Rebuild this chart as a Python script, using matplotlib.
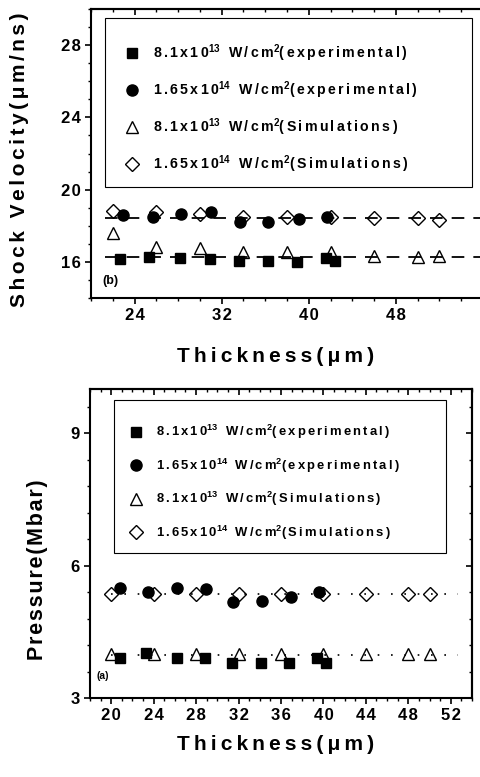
import matplotlib
matplotlib.use("Agg")
import matplotlib.pyplot as plt
from matplotlib.patches import Rectangle
from matplotlib.ticker import MultipleLocator

plt.rcParams['font.family'] = ['Liberation Sans', 'DejaVu Sans']
plt.rcParams['font.weight'] = 'bold'
plt.rcParams['mathtext.fontset'] = 'custom'
plt.rcParams['mathtext.bf'] = 'Liberation Sans:bold'
plt.rcParams['mathtext.rm'] = 'Liberation Sans:bold'

# ---- panel (b): shock velocity (x) ----
b_exp_low_x = [22.7, 25.3, 28.2, 30.9, 33.6, 36.3, 38.9, 41.6, 42.4]
b_exp_low_y = [16.15, 16.28, 16.22, 16.15, 16.06, 16.06, 15.97, 16.22, 16.06]
b_exp_high_x = [22.9, 25.7, 28.3, 31.0, 33.7, 36.3, 39.1, 41.7]
b_exp_high_y = [18.61, 18.51, 18.65, 18.74, 18.23, 18.20, 18.38, 18.46]
b_sim_x = [22, 26, 30, 34, 38, 42, 46, 50, 52]
b_sim_low_y = [17.59, 16.84, 16.75, 16.56, 16.56, 16.56, 16.32, 16.25, 16.32]
b_sim_high_y = [18.79, 18.74, 18.65, 18.46, 18.51, 18.46, 18.42, 18.42, 18.33]
b_fit_x = [21.3, 56.0]
b_fit_low = 16.25
b_fit_high = 18.45

# ---- panel (a): pressure ----
a_exp_low_x = [20.8, 23.3, 26.2, 28.8, 31.4, 34.1, 36.8, 39.4, 40.2]
a_exp_low_y = [3.90, 4.01, 3.90, 3.90, 3.80, 3.80, 3.80, 3.90, 3.80]
a_exp_high_x = [20.8, 23.5, 26.2, 28.9, 31.5, 34.2, 36.9, 39.6]
a_exp_high_y = [5.50, 5.40, 5.50, 5.48, 5.18, 5.20, 5.29, 5.40]
a_sim_x = [20, 24, 28, 32, 36, 40, 44, 48, 50]
a_sim_low_y = [4.0, 4.0, 4.0, 4.0, 4.0, 4.0, 4.0, 4.0, 4.0]
a_sim_high_y = [5.35, 5.35, 5.35, 5.36, 5.35, 5.36, 5.36, 5.35, 5.35]
a_fit_x = [20.0, 52.7]
a_fit_low = 3.97
a_fit_high = 5.35

series_base = ['8.1x10', '1.65x10', '8.1x10', '1.65x10']
series_exp = ['13', '14', '13', '14']
series_tail = ['(experimental)', '(experimental)', '(Simulations)', '(Simulations)']

THIN = '\u2009'
HAIR = '\u200a'
LEG_GAP = HAIR * 2


def sp(s, gap=HAIR):
    # crude letter spacing like the original Origin export
    return gap.join(s)


labels = [sp(b, LEG_GAP) + r'$^{\mathbf{%s}}$' % e + LEG_GAP + sp(' W/cm', LEG_GAP)
          + r'$^{\mathbf{2}}$' + sp(t, LEG_GAP)
          for b, e, t in zip(series_base, series_exp, series_tail)]


def style_axes(ax, xmaj, xmin, ymaj, ymin, right_spine):
    for s in ax.spines.values():
        s.set_linewidth(1.5)
    ax.xaxis.set_major_locator(MultipleLocator(xmaj))
    ax.xaxis.set_minor_locator(MultipleLocator(xmin))
    ax.yaxis.set_major_locator(MultipleLocator(ymaj))
    ax.yaxis.set_minor_locator(MultipleLocator(ymin))
    ax.tick_params(which='major', direction='out', length=4.5, width=1.2,
                   labelsize=12, pad=3)
    ax.tick_params(which='minor', direction='out', length=2.5, width=1.0)
    sec = ax.secondary_xaxis('top')
    sec.xaxis.set_major_locator(MultipleLocator(xmaj))
    sec.xaxis.set_minor_locator(MultipleLocator(xmin))
    sec.tick_params(which='major', direction='in', length=4.5, width=1.2, labeltop=False)
    sec.tick_params(which='minor', direction='in', length=2.5, width=1.0)
    sec.spines['top'].set_linewidth(1.5)
    if right_spine:
        sec2 = ax.secondary_yaxis('right')
        sec2.yaxis.set_major_locator(MultipleLocator(ymaj))
        sec2.yaxis.set_minor_locator(MultipleLocator(ymin))
        sec2.tick_params(which='major', direction='in', length=4.5, width=1.2, labelright=False)
        sec2.tick_params(which='minor', direction='in', length=2.5, width=1.0)
        sec2.spines['right'].set_linewidth(1.5)
    else:
        ax.spines['right'].set_visible(False)


def draw(ax, exl_x, exl_y, exh_x, exh_y, sim_x, siml, simh, fx, flo, fhi, ls, lw, ms):
    ax.plot(fx, [flo, flo], color='black', ls=ls, lw=lw, zorder=1)
    ax.plot(fx, [fhi, fhi], color='black', ls=ls, lw=lw, zorder=1)
    h1, = ax.plot(exl_x, exl_y, 's', color='black', ms=ms - 1, ls='none', zorder=3)
    h2, = ax.plot(exh_x, exh_y, 'o', color='black', ms=ms, ls='none', zorder=3)
    h3, = ax.plot(sim_x, siml, '^', mfc='none', mec='black', mew=1.0, ms=ms + 1, ls='none', zorder=2)
    h4, = ax.plot(sim_x, simh, 'D', mfc='none', mec='black', mew=1.0, ms=ms - 0.5, ls='none', zorder=2)
    return [h1, h2, h3, h4]


def boxed_legend(ax, handles, fs, ls, anchor, frame):
    leg = ax.legend(handles, labels, loc='upper left', bbox_to_anchor=anchor,
                    fontsize=fs, frameon=False, labelspacing=ls, borderpad=0,
                    handlelength=1.2, handletextpad=0.9, borderaxespad=0)
    ax.add_patch(Rectangle(frame[:2], frame[2], frame[3], transform=ax.transAxes,
                           fill=False, lw=0.8, ec='black', zorder=4))
    return leg


fig = plt.figure(figsize=(4.81, 7.77), dpi=100)

# top panel (b)
axb = fig.add_axes([91 / 481, 1 - 298 / 777, 392 / 481, 289 / 777])
hb = draw(axb, b_exp_low_x, b_exp_low_y, b_exp_high_x, b_exp_high_y, b_sim_x,
          b_sim_low_y, b_sim_high_y, b_fit_x, b_fit_low, b_fit_high, (0, (7, 5)), 1.3, 8)
axb.set_xlim(20, 56)
axb.set_ylim(14, 30)
style_axes(axb, 8, 2, 4, 1, right_spine=False)
axb.set_xticks([24, 32, 40, 48], [sp(str(t)) for t in [24, 32, 40, 48]])
axb.set_yticks([16, 20, 24, 28], [sp(str(t)) for t in [16, 20, 24, 28]])
axb.text(0.03, 0.05, '(b)', transform=axb.transAxes, fontsize=9, fontweight='bold')
boxed_legend(axb, hb, 10.2, 1.10, (0.082, 0.885), (0.036, 0.384, 0.936, 0.585))

# bottom panel (a)
axa = fig.add_axes([90 / 481, 1 - 698 / 777, 382 / 481, 309 / 777])
ha = draw(axa, a_exp_low_x, a_exp_low_y, a_exp_high_x, a_exp_high_y, a_sim_x,
          a_sim_low_y, a_sim_high_y, a_fit_x, a_fit_low, a_fit_high, (0, (1, 7)), 1.2, 8)
axa.set_xlim(18, 54)
axa.set_ylim(3, 10)
style_axes(axa, 4, 1, 3, 0.6, right_spine=True)
axa.set_xticks(list(range(20, 53, 4)), [sp(str(t)) for t in range(20, 53, 4)])
axa.set_yticks([3, 6, 9], ['3', '6', '9'])
axa.text(0.018, 0.06, '(a)', transform=axa.transAxes, fontsize=7.5, fontweight='bold')
boxed_legend(axa, ha, 9.4, 1.16, (0.101, 0.889), (0.063, 0.469, 0.869, 0.495))

fig.text(20 / 481, 1 - 160 / 777, sp('Shock Velocity(\u03bcm/ns)', HAIR * 2), rotation=90,
         ha='center', va='center', fontsize=15, fontweight='bold')
fig.text(38 / 481, 1 - 570 / 777, sp('Pressure(Mbar)', HAIR), rotation=90,
         ha='center', va='center', fontsize=15.5, fontweight='bold')
fig.text(276 / 481, 1 - 356 / 777, sp('Thickness(\u03bcm)', THIN),
         ha='center', va='center', fontsize=15, fontweight='bold')
fig.text(276 / 481, 1 - 745 / 777, sp('Thickness(\u03bcm)', THIN),
         ha='center', va='center', fontsize=15, fontweight='bold')

fig.savefig('out.png', dpi=100)
